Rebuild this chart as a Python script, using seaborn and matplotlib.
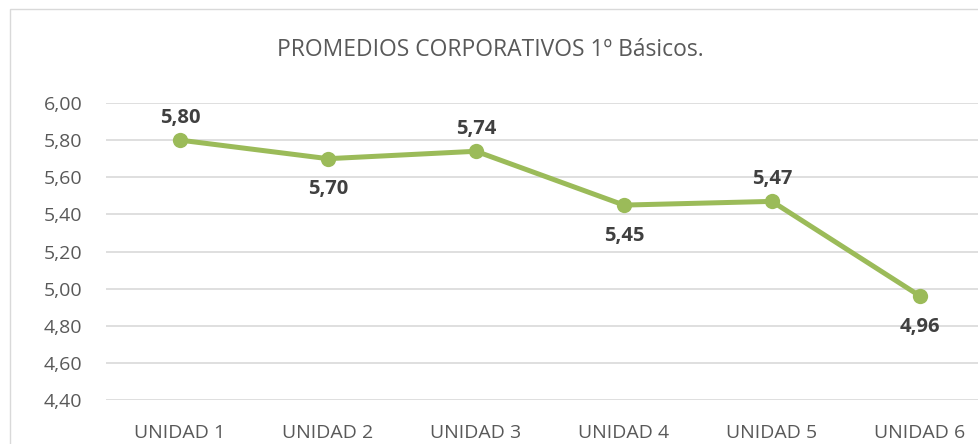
import matplotlib
matplotlib.use("Agg")
import matplotlib.pyplot as plt
import matplotlib.patches as mpatches
import seaborn as sns
import pandas as pd

# data
unidades = ["UNIDAD 1", "UNIDAD 2", "UNIDAD 3", "UNIDAD 4", "UNIDAD 5", "UNIDAD 6"]
promedios = [5.80, 5.70, 5.74, 5.45, 5.47, 4.96]
label_pos = ["above", "below", "above", "below", "above", "below"]
y_ticks = [4.40, 4.60, 4.80, 5.00, 5.20, 5.40, 5.60, 5.80, 6.00]

df = pd.DataFrame({"Unidad": unidades, "Promedio": promedios})

sns.set_style("white")
plt.rcParams["font.family"] = ["Open Sans", "DejaVu Sans"]

W, H = 979, 444
fig = plt.figure(figsize=(W / 100, H / 100), dpi=100)

# outer chart border
fig.patches.append(mpatches.Rectangle((9.5 / W, -0.1), 1.2, (H - 9.5) / H + 0.1,
                                      transform=fig.transFigure, fill=False,
                                      edgecolor="#D9D9D9", linewidth=1.0))

ax = fig.add_axes([106 / W, (H - 400) / H, 888 / W, 297 / H])

sns.lineplot(data=df, x="Unidad", y="Promedio", ax=ax, color="#9BBB59",
             linewidth=3.6, marker="o", markersize=11, markeredgewidth=0,
             sort=False)

ax.set_xlim(-0.5, 5.5)
ax.set_ylim(4.40, 6.00)
ax.set_yticks(y_ticks)
ax.set_yticklabels([f"{v:.2f}".replace(".", ",") for v in y_ticks])
ax.grid(axis="y", color="#D9D9D9", linewidth=1.2)
ax.set_axisbelow(True)
for s in ax.spines.values():
    s.set_visible(False)
ax.set_xlabel("")
ax.set_ylabel("")
ax.tick_params(axis="both", length=0, labelsize=14, colors="#595959")
ax.tick_params(axis="y", pad=17)
ax.tick_params(axis="x", pad=17)

for i, (v, p) in enumerate(zip(promedios, label_pos)):
    dy = 16 if p == "above" else -22
    ax.annotate(f"{v:.2f}".replace(".", ","), (i, v), xytext=(0, dy),
                textcoords="offset points", ha="center", va="center",
                fontsize=14.5, fontweight="bold", color="#404040")

fig.text(490 / W, 1 - 50 / H, "PROMEDIOS CORPORATIVOS 1º Básicos.",
         ha="center", va="center", fontsize=16.5, color="#595959")

fig.savefig("out.png", dpi=100)
